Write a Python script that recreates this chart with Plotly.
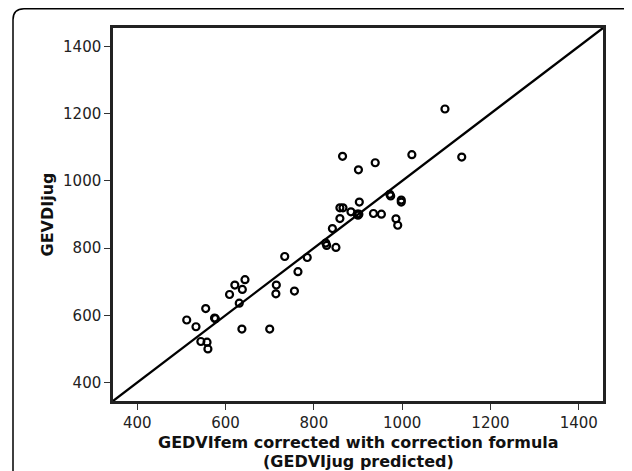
import plotly.graph_objects as go

# Data
gedvi_fem_corrected = [1097, 1135, 1022, 865, 939, 901, 972, 974, 998, 998,
                       903, 859, 866, 884, 859, 898, 902, 900, 935, 953,
                       986, 990, 842, 827, 829, 850, 785, 734, 764, 756,
                       715, 714, 644, 621, 638, 609, 631, 555, 575, 577,
                       512, 533, 637, 700, 544, 558, 560]
gedvi_jug = [1214, 1071, 1078, 1073, 1054, 1033, 960, 955, 943, 937,
             937, 920, 920, 908, 888, 901, 901, 898, 903, 901,
             887, 868, 858, 815, 808, 802, 772, 775, 730, 672,
             690, 664, 706, 690, 677, 662, 636, 620, 592, 590,
             586, 566, 559, 559, 522, 520, 500]
identity_line = [345, 1455]
tick_values = [400, 600, 800, 1000, 1200, 1400]
tick_labels = ["400", "600", "800", "1000", "1200", "1400"]

# The page body has an 8px default margin; size the figure to fill the window.
OFF = 8
W, H = 632 - OFF, 471 - OFF
L, R, T, B = 113 - OFF, 29, 28 - OFF, 70
pw, ph = W - L - R, H - T - B

fig = go.Figure()
fig.add_trace(go.Scatter(x=identity_line, y=identity_line, mode="lines",
                         line=dict(color="#000000", width=2.3),
                         hoverinfo="skip", showlegend=False))
fig.add_trace(go.Scatter(x=gedvi_fem_corrected, y=gedvi_jug, mode="markers",
                         marker=dict(symbol="circle-open", size=7,
                                     line=dict(color="#000000", width=2.2),
                                     color="#000000"),
                         showlegend=False))

axis_common = dict(range=identity_line, tickvals=tick_values, ticktext=tick_labels,
                   showgrid=False, zeroline=False, showline=True, mirror=True,
                   linecolor="#222222", linewidth=2.5, ticks="outside", ticklen=6,
                   tickwidth=1, tickcolor="#333333",
                   tickfont=dict(family="DejaVu Sans", size=15, color="#222222"))
fig.update_xaxes(**axis_common)
fig.update_yaxes(**axis_common)

# helpers: screen pixel (window coordinates) -> paper coordinates
def px_x(px):
    return (px - OFF - L) / pw

def px_y(py):
    return (H - B - (py - OFF)) / ph

# rounded outer border (open to the right and bottom, like the reference crop)
bl, bt, rad = 13, 8.8, 11
br, bb = 660, 500
path = (f"M {px_x(bl)},{px_y(bb)} L {px_x(bl)},{px_y(bt + rad)} "
        f"Q {px_x(bl)},{px_y(bt)} {px_x(bl + rad)},{px_y(bt)} "
        f"L {px_x(br)},{px_y(bt)}")
fig.add_shape(type="path", path=path, xref="paper", yref="paper",
              line=dict(color="#000000", width=1.5))

title_font = dict(family="DejaVu Sans", size=16, color="#111111")
fig.add_annotation(text="<b>GEDVIfem corrected with correction formula</b>",
                   xref="paper", yref="paper", x=0.5, y=px_y(442), yanchor="middle",
                   showarrow=False, font=title_font)
fig.add_annotation(text="<b>(GEDVIjug predicted)</b>",
                   xref="paper", yref="paper", x=0.5, y=px_y(461), yanchor="middle",
                   showarrow=False, font=title_font)
fig.add_annotation(text="<b>GEVDIjug</b>", textangle=-90,
                   xref="paper", yref="paper", x=px_x(47), y=0.5, xanchor="center",
                   showarrow=False, font=title_font)

fig.update_layout(width=W, height=H, margin=dict(l=L, r=R, t=T, b=B),
                  paper_bgcolor="white", plot_bgcolor="white")
fig.write_html("out.html")
